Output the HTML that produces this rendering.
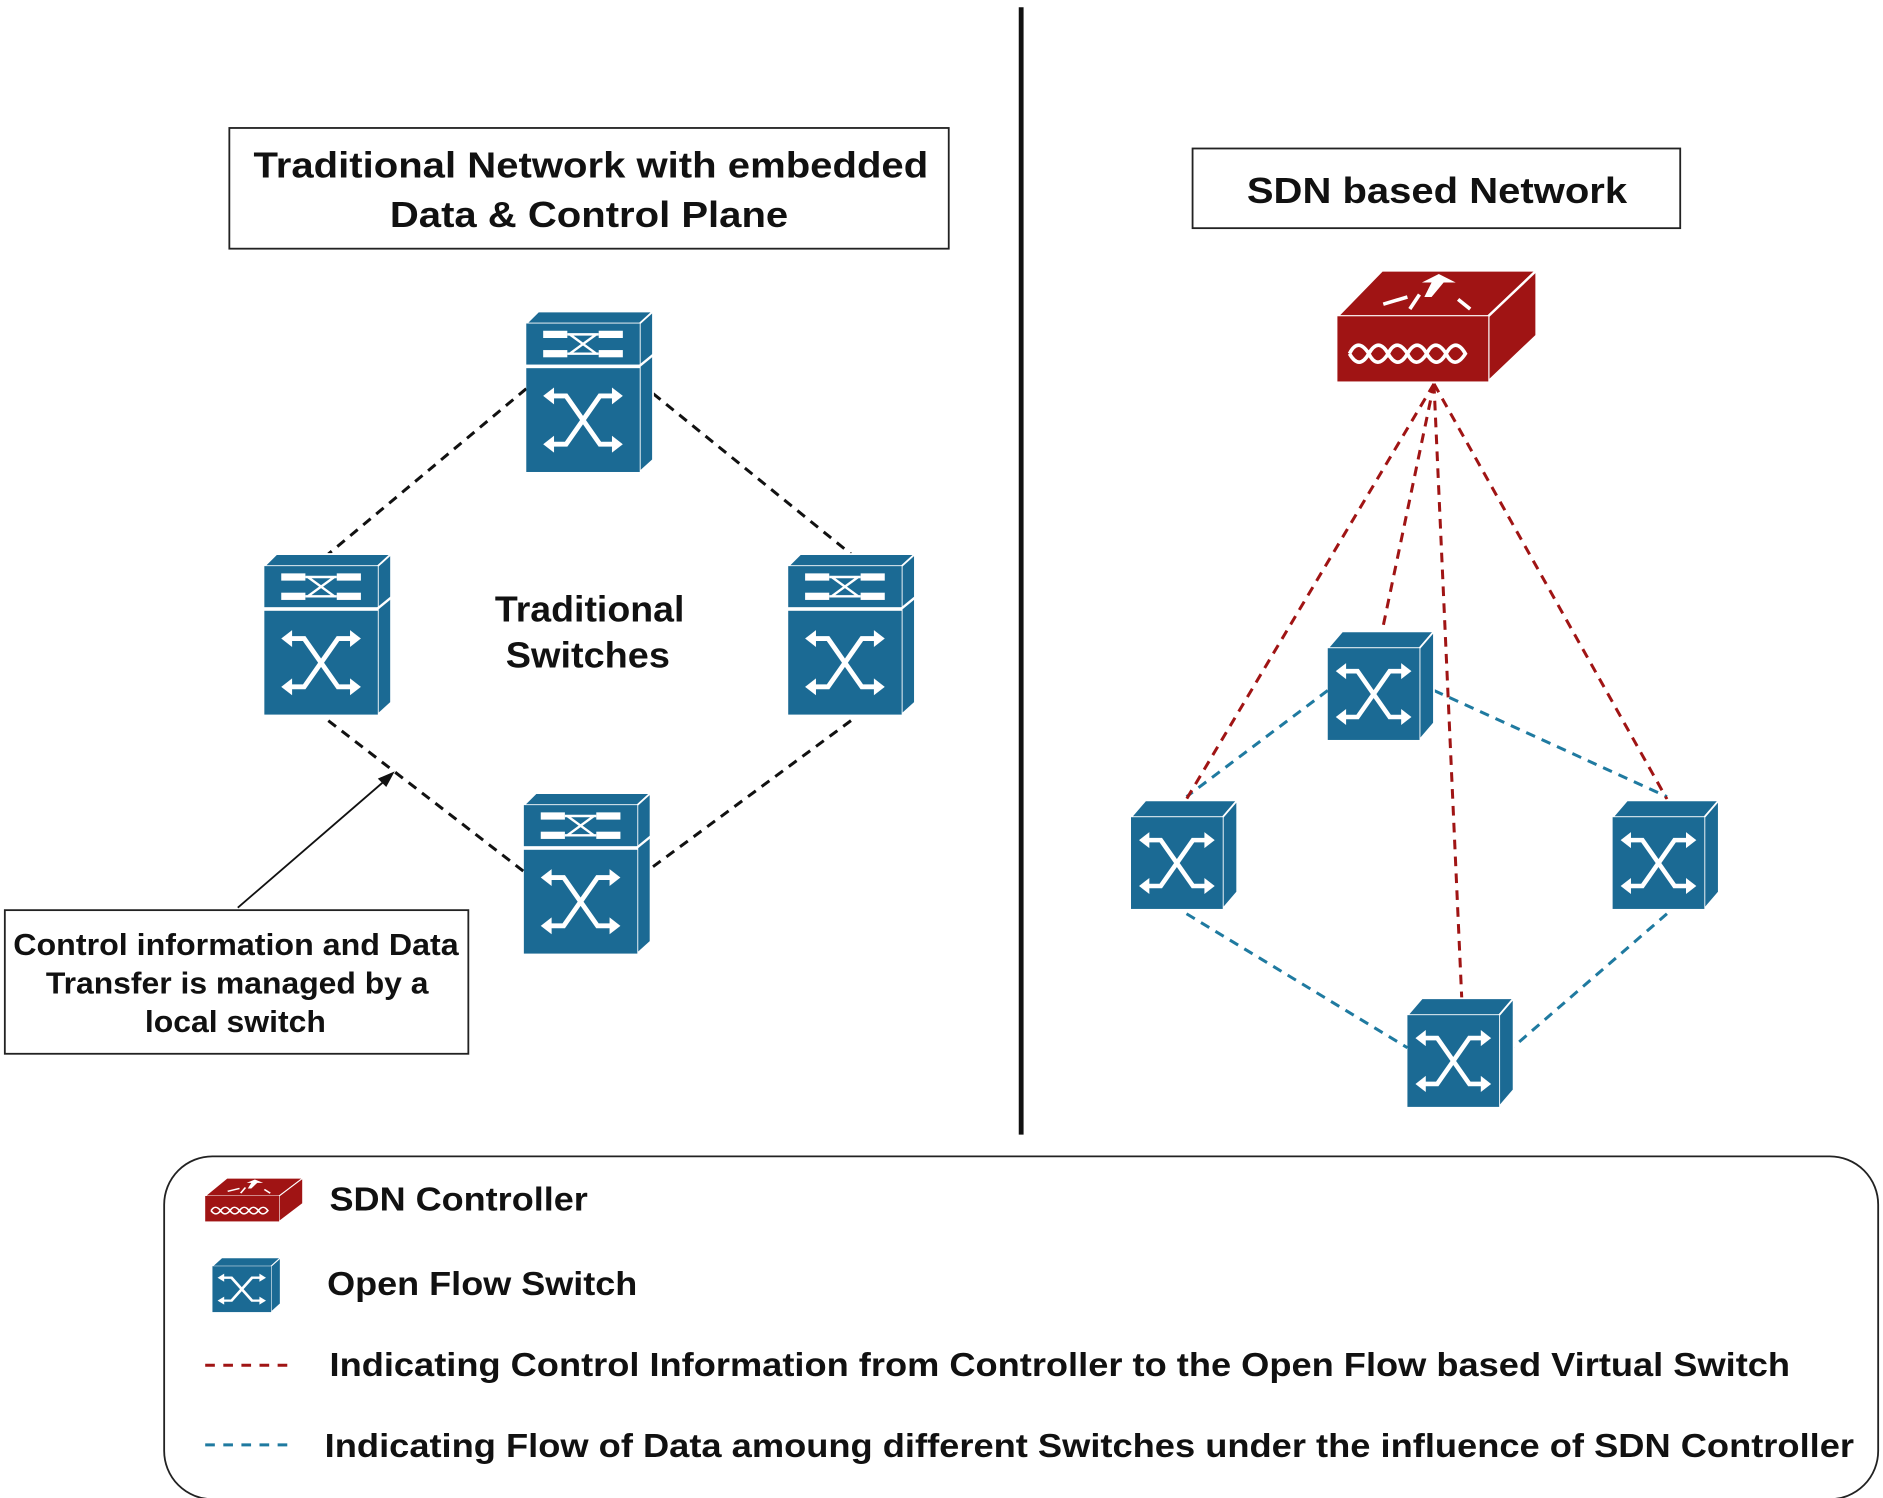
<!DOCTYPE html>
<html><head><meta charset="utf-8"><style>
html,body{margin:0;padding:0;background:#fff;}
svg{display:block;}
text{font-family:"Liberation Sans",Arial,sans-serif;font-weight:bold;fill:#111;}
</style></head><body>
<svg width="1883" height="1498" viewBox="0 0 1560 1241" xmlns="http://www.w3.org/2000/svg">
<defs>
<g id="xi">
<path d="M-28,-20 H-14 L14,20 H28 M28,-20 H14 L-14,20 H-28" fill="none" stroke="#fff" stroke-width="4"/>
<polygon points="-33,-20 -24,-27 -24,-13" fill="#fff"/>
<polygon points="33,-20 24,-27 24,-13" fill="#fff"/>
<polygon points="-33,20 -24,13 -24,27" fill="#fff"/>
<polygon points="33,20 24,13 24,27" fill="#fff"/>
</g>
<g id="ts">
<polygon points="0,10 10,0 105,0 94,10" fill="#1b6a94" stroke="#fff" stroke-width="1.5"/>
<polygon points="94,10 105,0 105,123 94,133" fill="#1b6a94" stroke="#fff" stroke-width="1.5"/>
<rect x="0" y="10" width="94" height="34" fill="#1b6a94"/>
<rect x="0" y="47" width="94" height="86" fill="#1b6a94"/>
<line x1="94" y1="45" x2="105" y2="36" stroke="#fff" stroke-width="2"/>
<rect x="14" y="16" width="20" height="6" fill="#fff"/><rect x="60" y="16" width="20" height="6" fill="#fff"/>
<rect x="14" y="32" width="20" height="6" fill="#fff"/><rect x="60" y="32" width="20" height="6" fill="#fff"/>
<path d="M34,19 H60 M34,35 H60 M36,19 L58,35 M36,35 L58,19" stroke="#fff" stroke-width="2"/>
<use href="#xi" transform="translate(47,90)"/>
</g>
<g id="os">
<polygon points="0,14 12,0 88,0 76,14" fill="#1b6a94" stroke="#fff" stroke-width="1.5"/>
<polygon points="76,14 88,0 88,76 76,90" fill="#1b6a94" stroke="#fff" stroke-width="1.5"/>
<rect x="0" y="14" width="76" height="76" fill="#1b6a94"/>
<use href="#xi" transform="translate(38,52) scale(0.95)"/>
</g>
<g id="ctl">
<polygon points="0,38 37,0 165,0 125,38" fill="#a01414" stroke="#fff" stroke-width="2"/>
<polygon points="125,38 165,0 165,54 125,92" fill="#a01414" stroke="#fff" stroke-width="2"/>
<rect x="0" y="38" width="125" height="54" fill="#a01414"/>
<path d="M10,69 q7,-14 16,0 q7,14 16,0 q7,-14 16,0 q7,14 16,0 q7,-14 16,0 q7,14 16,0 q-8,-14 -16,0 q-8,14 -16,0 q-8,-14 -16,0 q-8,14 -16,0 q-8,-14 -16,0 q-8,14 -16,0" fill="none" stroke="#fff" stroke-width="3"/>
<polygon points="70,10 84,3 98,10 88,10 78,22 72,22 78,10" fill="#fff"/>
<path d="M38,28 L58,22 M60,32 L68,20 M100,24 L110,32" stroke="#fff" stroke-width="3"/>
</g>
</defs>

<line x1="846" y1="6" x2="846" y2="940" stroke="#111" stroke-width="4"/>

<rect x="190" y="106" width="596" height="100" fill="#fff" stroke="#222" stroke-width="1.5"/>
<text x="210" y="147" font-size="30" textLength="559" lengthAdjust="spacingAndGlyphs">Traditional Network with embedded</text>
<text x="323" y="188" font-size="30" textLength="330" lengthAdjust="spacingAndGlyphs">Data &amp; Control Plane</text>

<rect x="988" y="123" width="404" height="66" fill="#fff" stroke="#222" stroke-width="1.5"/>
<text x="1033" y="168" font-size="30" textLength="315" lengthAdjust="spacingAndGlyphs">SDN based Network</text>

<g stroke="#111" stroke-width="2.5" stroke-dasharray="8,6" fill="none">
<line x1="436" y1="322" x2="272" y2="459"/>
<line x1="541" y1="326" x2="705" y2="459"/>
<line x1="272" y1="597" x2="434" y2="722"/>
<line x1="705" y1="597" x2="541" y2="718"/>
</g>
<use href="#ts" transform="translate(436,258)"/>
<use href="#ts" transform="translate(219,459)"/>
<use href="#ts" transform="translate(653,459)"/>
<use href="#ts" transform="translate(434,657)"/>

<text x="410" y="515" font-size="30" textLength="157" lengthAdjust="spacingAndGlyphs">Traditional</text>
<text x="419" y="553" font-size="30" textLength="136" lengthAdjust="spacingAndGlyphs">Switches</text>

<line x1="197" y1="752" x2="322" y2="644" stroke="#111" stroke-width="1.5"/>
<polygon points="327,639 313,645 320,652" fill="#111"/>
<rect x="4" y="754" width="384" height="119" fill="#fff" stroke="#222" stroke-width="1.5"/>
<text x="11" y="791" font-size="25" textLength="369" lengthAdjust="spacingAndGlyphs">Control information and Data</text>
<text x="38" y="823" font-size="25" textLength="317" lengthAdjust="spacingAndGlyphs">Transfer is managed by a</text>
<text x="120" y="855" font-size="25" textLength="150" lengthAdjust="spacingAndGlyphs">local switch</text>

<g stroke="#1f7aa0" stroke-width="2.5" stroke-dasharray="8,6" fill="none">
<line x1="1100" y1="572" x2="983" y2="660"/>
<line x1="1188" y1="572" x2="1381" y2="660"/>
<line x1="983" y1="757" x2="1166" y2="868"/>
<line x1="1381" y1="757" x2="1253" y2="868"/>
</g>
<g stroke="#a01414" stroke-width="2.5" stroke-dasharray="8,6" fill="none">
<line x1="1188" y1="318" x2="983" y2="662"/>
<line x1="1188" y1="318" x2="1145" y2="523"/>
<line x1="1188" y1="318" x2="1211" y2="827"/>
<line x1="1188" y1="318" x2="1381" y2="662"/>
</g>
<use href="#ctl" transform="translate(1108,224)"/>
<use href="#os" transform="translate(1100,523)"/>
<use href="#os" transform="translate(937,663)"/>
<use href="#os" transform="translate(1336,663)"/>
<use href="#os" transform="translate(1166,827)"/>

<rect x="136" y="958" width="1420" height="284" rx="40" fill="#fff" stroke="#222" stroke-width="1.5"/>
<use href="#ctl" transform="translate(170,976) scale(0.49,0.39)"/>
<use href="#os" transform="translate(176,1042) scale(0.64,0.5)"/>
<line x1="170" y1="1131" x2="240" y2="1131" stroke="#a01414" stroke-width="2.5" stroke-dasharray="8,7"/>
<line x1="170" y1="1197" x2="240" y2="1197" stroke="#1f7aa0" stroke-width="2.5" stroke-dasharray="8,7"/>
<text x="273" y="1003" font-size="28" textLength="214" lengthAdjust="spacingAndGlyphs">SDN Controller</text>
<text x="271" y="1073" font-size="28" textLength="257" lengthAdjust="spacingAndGlyphs">Open Flow Switch</text>
<text x="273" y="1140" font-size="28" textLength="1210" lengthAdjust="spacingAndGlyphs">Indicating Control Information from Controller to the Open Flow based Virtual Switch</text>
<text x="269" y="1207" font-size="28" textLength="1267" lengthAdjust="spacingAndGlyphs">Indicating Flow of Data amoung different Switches under the influence of SDN Controller</text>
</svg>
</body></html>
